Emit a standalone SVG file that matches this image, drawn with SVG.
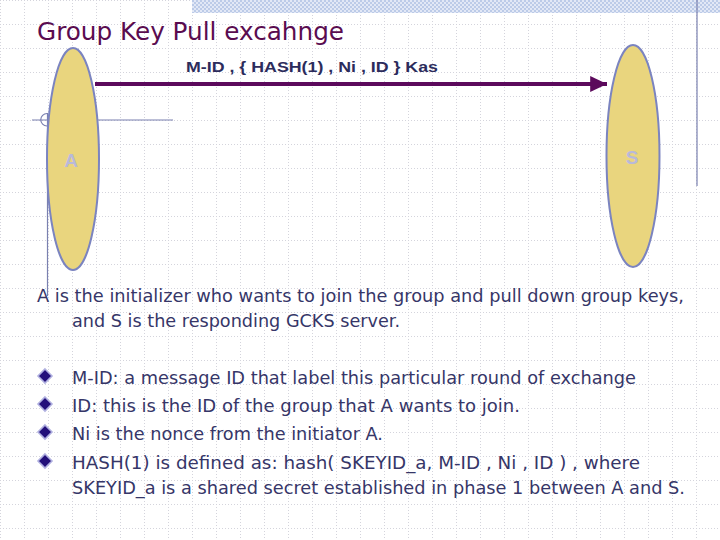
<svg xmlns="http://www.w3.org/2000/svg" width="720" height="540" viewBox="0 0 720 540">
<defs>
<pattern id="grid" width="24" height="24" patternUnits="userSpaceOnUse">
<path d="M0 0.5H24M0.5 0V24" stroke="#d4d4dc" stroke-width="1" stroke-dasharray="1 2" fill="none"/>
</pattern>
<pattern id="check" width="4" height="4" patternUnits="userSpaceOnUse">
<rect width="4" height="4" fill="#e2e8f6"/>
<rect width="2" height="2" fill="#bccbe8"/>
<rect x="2" y="2" width="2" height="2" fill="#bccbe8"/>
</pattern>
<marker id="arr" markerWidth="5" markerHeight="5" refX="4.2" refY="2.5" orient="auto" markerUnits="strokeWidth">
<path d="M0 0.5L4.2 2.5L0 4.5Z" fill="#5c0a5c"/>
</marker>
<style>
.body{font-family:"DejaVu Sans","Verdana",sans-serif;font-size:18px;fill:#363668}
.node{fill:#e9d57e;stroke:#7b84c0;stroke-width:2}
.nl{font-family:"Liberation Sans",Arial,sans-serif;font-weight:bold;font-size:19px;fill:#b9b9d9;text-anchor:middle}
.deco{stroke:#7a80b0;stroke-width:1.2;fill:none}
.bul{fill:#23107a;stroke:#b0b0e0;stroke-width:1.6}
</style>
</defs>
<rect width="720" height="540" fill="#ffffff"/>
<rect width="720" height="540" fill="url(#grid)"/>
<rect x="192" y="0" width="528" height="13" fill="url(#check)"/>
<line x1="697" y1="0" x2="697" y2="186" class="deco"/>
<g id="deco-left">
<line x1="32" y1="120" x2="173" y2="120" class="deco"/>
<path d="M47 113.5A6 6 0 0 0 47 126" class="deco"/>
<line x1="47.5" y1="113" x2="47.5" y2="296" class="deco"/>
</g>
<text x="37" y="40" font-family="DejaVu Sans,Verdana,sans-serif" font-size="25" fill="#5a0c50" textLength="307" lengthAdjust="spacingAndGlyphs">Group Key Pull excahnge</text>
<g id="node-A">
<ellipse cx="73" cy="159" rx="26" ry="111" class="node"/>
<text x="71" y="167" class="nl">A</text>
</g>
<g id="node-S">
<ellipse cx="633" cy="156" rx="26.5" ry="111" class="node"/>
<text x="632" y="164" class="nl">S</text>
</g>
<g id="connectors">
<line x1="95" y1="84" x2="607" y2="84" stroke="#5c0a5c" stroke-width="4" marker-end="url(#arr)"/>
<text x="186" y="72" font-family="Liberation Sans,Arial,sans-serif" font-weight="bold" font-size="15" fill="#2c2c5c" textLength="252" lengthAdjust="spacingAndGlyphs">M-ID , { HASH(1) , Ni , ID } Kas</text>
</g>
<g id="text">
<text x="37" y="302" class="body" textLength="647" lengthAdjust="spacingAndGlyphs">A is the initializer who wants to join the group and pull down group keys,</text>
<text x="72" y="327" class="body" textLength="328" lengthAdjust="spacingAndGlyphs">and S is the responding GCKS server.</text>
<path class="bul" d="M45 369L52 376L45 383L38 376Z"/>
<path class="bul" d="M45 397L52 404L45 411L38 404Z"/>
<path class="bul" d="M45 425L52 432L45 439L38 432Z"/>
<path class="bul" d="M45 454L52 461L45 468L38 461Z"/>
<text x="72" y="384" class="body" textLength="564" lengthAdjust="spacingAndGlyphs">M-ID: a message ID that label this particular round of exchange</text>
<text x="72" y="412" class="body" textLength="448" lengthAdjust="spacingAndGlyphs">ID: this is the ID of the group that A wants to join.</text>
<text x="72" y="440" class="body" textLength="311" lengthAdjust="spacingAndGlyphs">Ni is the nonce from the initiator A.</text>
<text x="72" y="469" class="body" textLength="568" lengthAdjust="spacingAndGlyphs">HASH(1) is defined as: hash( SKEYID_a, M-ID , Ni , ID ) , where</text>
<text x="72" y="494" class="body" textLength="613" lengthAdjust="spacingAndGlyphs">SKEYID_a is a shared secret established in phase 1 between A and S.</text>
</g>
</svg>
